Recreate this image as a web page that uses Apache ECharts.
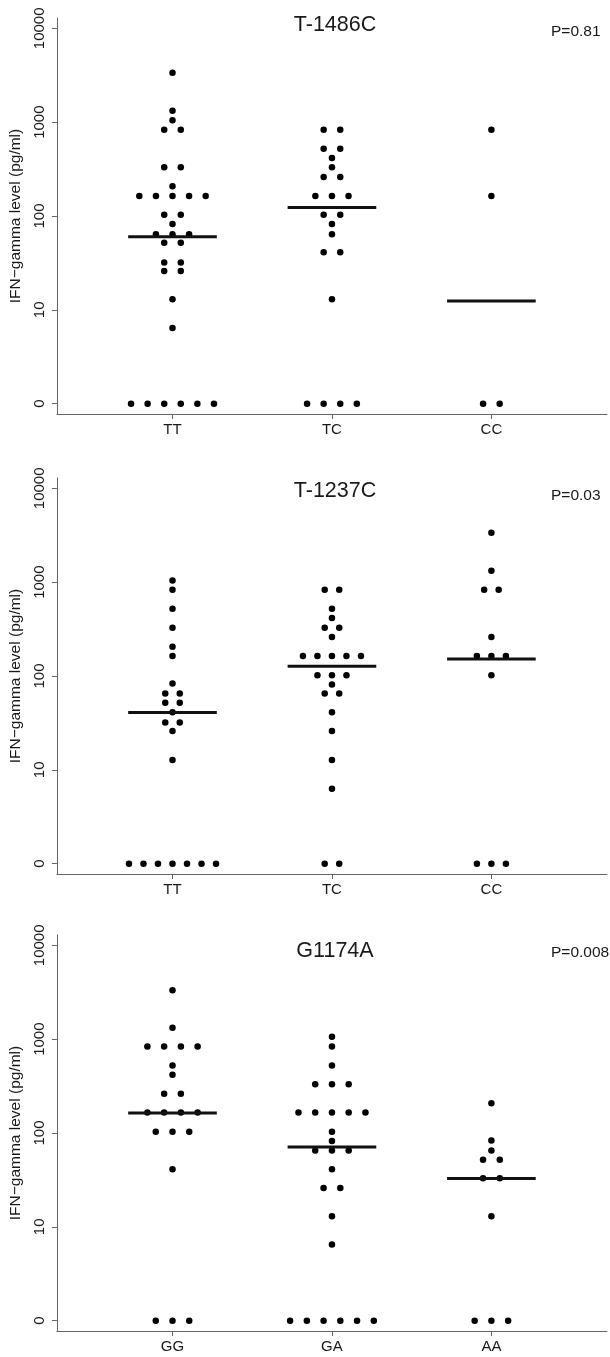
<!DOCTYPE html>
<html>
<head>
<meta charset="utf-8">
<script src="https://cdn.jsdelivr.net/npm/echarts@6/dist/echarts.min.js"></script>
<style>
html,body{margin:0;padding:0;background:#fff;}
#chart{width:610px;height:1357px;}
</style>
</head>
<body>
<div id="chart"></div>
<script>
// ---------------- DATA ----------------
const PANEL_TITLES = ["T-1486C", "T-1237C", "G1174A"];
const P_VALUES = ["P=0.81", "P=0.03", "P=0.008"];
const CATS_1 = ["TT", "TC", "CC"];
const CATS_2 = ["TT", "TC", "CC"];
const CATS_3 = ["GG", "GA", "AA"];
const Y_TICK_VALUES = [0, 10, 100, 1000, 10000];
const Y_NAME = "IFN\u2212gamma level (pg/ml)";

// Panel 1: T-1486C (pg/ml)
const P1_TT = [3360, 1320, 1050, 830, 830, 330, 330, 207, 163, 163, 163, 163, 163, 103, 103, 82, 64, 64, 64, 52, 52, 32, 32, 26, 26, 13, 6.4, 0, 0, 0, 0, 0, 0];
const P1_TC = [830, 830, 521, 521, 414, 330, 260, 260, 163, 163, 163, 103, 103, 82, 64, 41, 41, 13, 0, 0, 0, 0];
const P1_CC = [830, 163, 0, 0];
const P1_MEDIANS = [60, 123, 12.4];

// Panel 2: T-1237C
const P2_TT = [1043, 830, 521, 327, 205, 163, 83, 65, 65, 52, 52, 41, 32, 32, 26, 12.7, 0, 0, 0, 0, 0, 0, 0];
const P2_TC = [830, 830, 521, 414, 327, 327, 260, 163, 163, 163, 163, 163, 102, 102, 102, 81, 65, 65, 41, 26, 12.7, 6.3, 0, 0];
const P2_CC = [3356, 1322, 830, 830, 260, 163, 163, 163, 102, 0, 0, 0];
const P2_MEDIANS = [40.8, 127, 152];

// Panel 3: G1174A
const P3_GG = [3320, 1322, 836, 836, 836, 836, 525, 418, 262, 262, 165, 165, 165, 165, 103, 103, 103, 41, 0, 0, 0];
const P3_GA = [1061, 836, 525, 330, 330, 330, 165, 165, 165, 165, 165, 103, 82, 65, 65, 65, 41, 26, 26, 13, 6.5, 0, 0, 0, 0, 0, 0];
const P3_AA = [208, 83, 65, 52, 52, 33, 33, 13, 0, 0, 0];
const P3_MEDIANS = [163, 71, 32.7];

// ---------------- LAYOUT / STYLE ----------------
const PANELS = [
  {cats: CATS_1, groups: [P1_TT, P1_TC, P1_CC], medians: P1_MEDIANS, top: 18, titleY: 25, pY: 32, step: 0.104},
  {cats: CATS_2, groups: [P2_TT, P2_TC, P2_CC], medians: P2_MEDIANS, top: 478, titleY: 491, pY: 496, step: 0.091},
  {cats: CATS_3, groups: [P3_GG, P3_GA, P3_AA], medians: P3_MEDIANS, top: 935, titleY: 951, pY: 953, step: 0.105}
];
const GRID_H = 396;
const ZERO_POS = 1;           // "0" is drawn at the position of 1 on the log axis
const MED_HALF = 0.278;       // half-width of the median bar in category units
const FONT = "'Liberation Sans', Arial, Helvetica, sans-serif";
const AXIS_COLOR = '#666666';
const TEXT_COLOR = '#1a1a1a';

function swarm(values, catIndex, step) {
  const counts = new Map();
  values.forEach(v => counts.set(v, (counts.get(v) || 0) + 1));
  const pts = [];
  counts.forEach((n, v) => {
    for (let k = 0; k < n; k++) {
      pts.push([catIndex + (k - (n - 1) / 2) * step, v === 0 ? ZERO_POS : v]);
    }
  });
  return pts;
}

const grids = [], xAxes = [], yAxes = [], series = [], graphics = [];
PANELS.forEach((p, i) => {
  grids.push({left: 55, right: 3, top: p.top, height: GRID_H, containLabel: false});
  const cats = p.cats;
  xAxes.push({
    type: 'value', gridIndex: i, min: 0.275, max: 3.725,
    splitLine: {show: false},
    axisLine: {show: true, onZero: false, lineStyle: {color: AXIS_COLOR, width: 1}},
    axisTick: {show: true, length: 5, customValues: [1, 2, 3], lineStyle: {color: AXIS_COLOR}},
    axisLabel: {
      customValues: [1, 2, 3], margin: 8,
      formatter: v => cats[Math.round(v) - 1] || '',
      fontFamily: FONT, fontSize: 15, color: TEXT_COLOR
    }
  });
  yAxes.push({
    type: 'log', logBase: 10, gridIndex: i, min: 0.776, max: 12880,
    splitLine: {show: false},
    axisLine: {show: true, onZero: false, lineStyle: {color: AXIS_COLOR, width: 1}},
    axisTick: {show: true, length: 5, customValues: Y_TICK_VALUES.map(v => v === 0 ? ZERO_POS : v), lineStyle: {color: AXIS_COLOR}},
    axisLabel: {
      customValues: Y_TICK_VALUES.map(v => v === 0 ? ZERO_POS : v),
      rotate: 90, margin: 10,
      formatter: v => (Math.abs(v - ZERO_POS) < 1e-9 ? '0' : String(Math.round(v))),
      fontFamily: FONT, fontSize: 15, color: TEXT_COLOR
    },
    name: Y_NAME, nameLocation: 'middle', nameRotate: 90, nameGap: 31,
    nameTextStyle: {fontFamily: FONT, fontSize: 15.5, color: TEXT_COLOR}
  });
  p.groups.forEach((vals, c) => {
    series.push({
      type: 'scatter', xAxisIndex: i, yAxisIndex: i,
      data: swarm(vals, c + 1, p.step),
      symbol: 'circle', symbolSize: 6.5,
      itemStyle: {color: '#000000', opacity: 1},
      emphasis: {disabled: true},
      silent: true, animation: false
    });
  });
  series.push({
    type: 'custom', xAxisIndex: i, yAxisIndex: i,
    data: p.medians.map((m, c) => [c + 1, m]),
    renderItem: (params, api) => {
      const c = api.value(0), m = api.value(1);
      const a = api.coord([c - MED_HALF, m]);
      const b = api.coord([c + MED_HALF, m]);
      return {type: 'line', shape: {x1: a[0], y1: a[1], x2: b[0], y2: b[1]}, style: {stroke: '#111111', lineWidth: 3}};
    },
    silent: true, animation: false, z: 3
  });
  graphics.push({
    type: 'text', x: 335, y: p.titleY,
    style: {text: PANEL_TITLES[i], fontFamily: FONT, fontSize: 21.5, fill: TEXT_COLOR, align: 'center', verticalAlign: 'middle'}
  });
  graphics.push({
    type: 'text', x: 551, y: p.pY,
    style: {text: P_VALUES[i], fontFamily: FONT, fontSize: 15.5, fill: TEXT_COLOR, align: 'left', verticalAlign: 'middle'}
  });
});

const chart = echarts.init(document.getElementById('chart'), null, {renderer: 'canvas'});
chart.setOption({
  backgroundColor: '#ffffff',
  animation: false,
  grid: grids, xAxis: xAxes, yAxis: yAxes, series: series, graphic: graphics
});
</script>
</body>
</html>
